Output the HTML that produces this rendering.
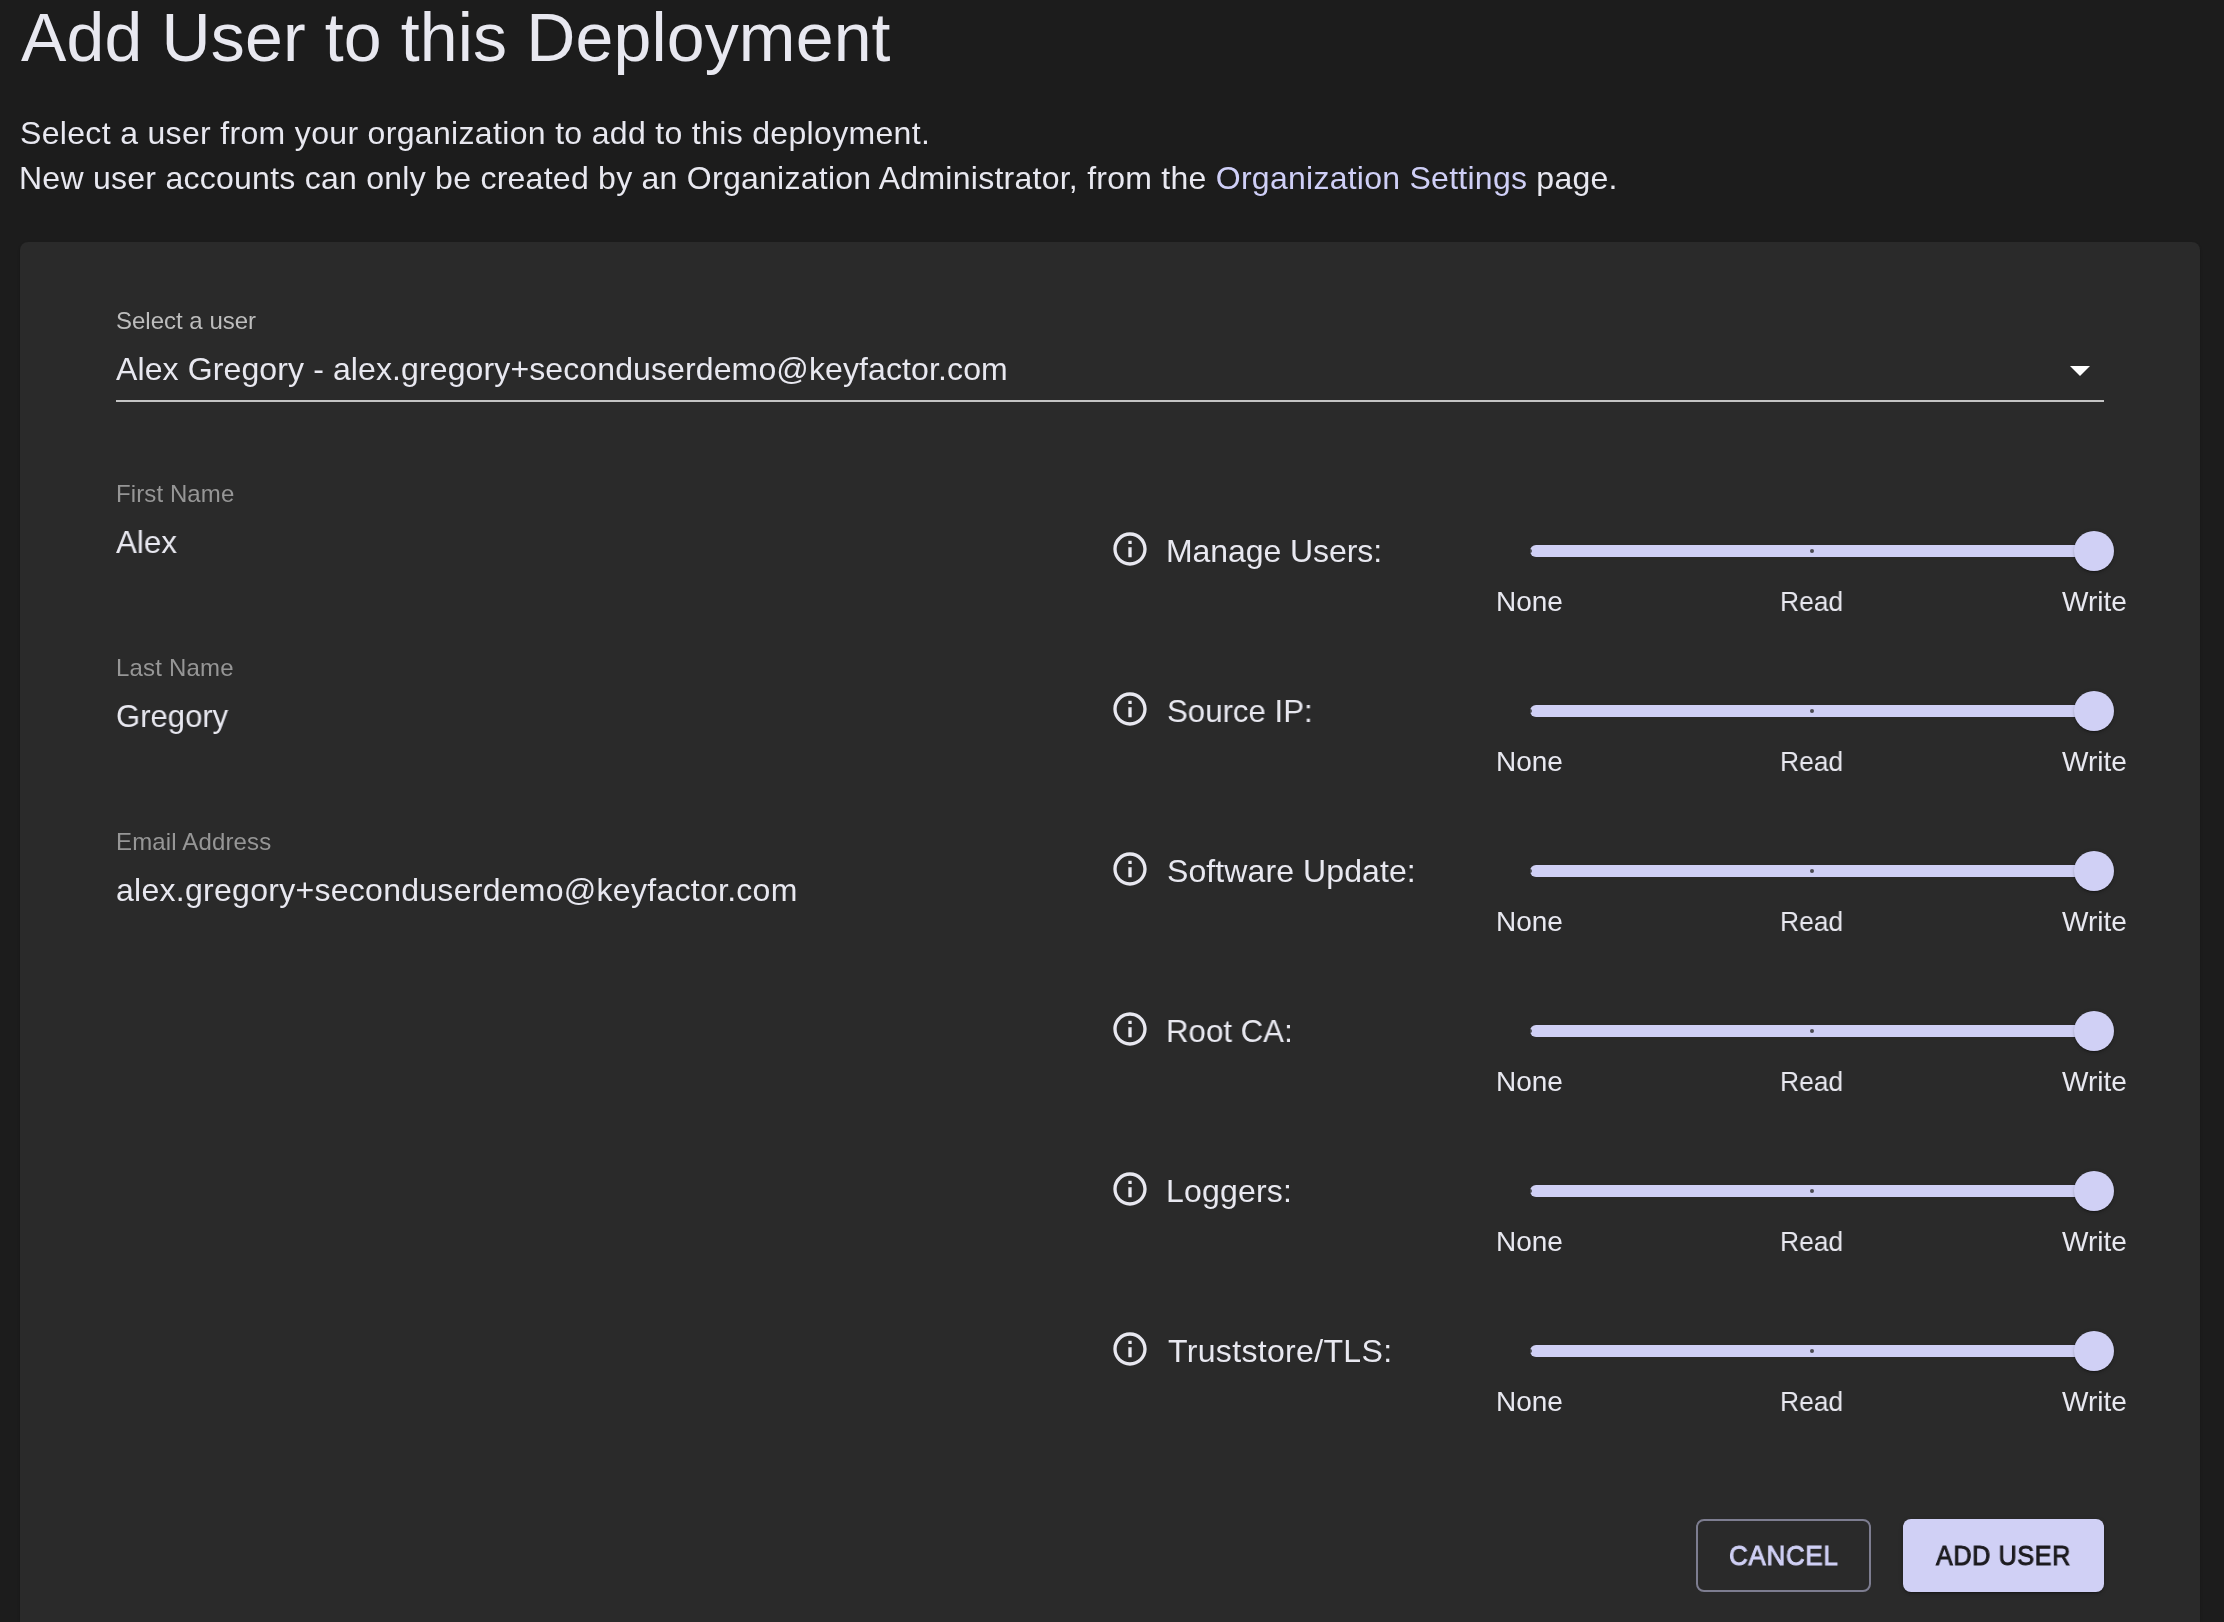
<!DOCTYPE html>
<html><head><meta charset="utf-8"><title>Add User to this Deployment</title>
<style>
html,body{margin:0;padding:0;width:2224px;height:1622px;overflow:hidden;}
body{width:2224px;height:1622px;background:#1c1c1c;overflow:hidden;position:relative;font-family:"Liberation Sans",sans-serif;color:#e8e8f0;}
.t{position:absolute;white-space:nowrap;line-height:1;will-change:transform;}
#paper{position:absolute;left:20px;top:242px;width:2180px;height:1380px;background:#2a2a2a;border-radius:8px 8px 0 0;box-shadow:0 2px 1px -1px rgba(0,0,0,0.2),0 1px 1px 0 rgba(0,0,0,0.14),0 1px 3px 0 rgba(0,0,0,0.12);}
.ico{position:absolute;left:1110px;width:40px;height:40px;}
.track{position:absolute;left:1530px;width:570px;height:12px;border-radius:6px;background:#d0d0f5;}
.dot{position:absolute;width:4px;height:4px;border-radius:2px;background:#2a2a2a;opacity:0.8;}
.thumb{position:absolute;left:2074px;width:40px;height:40px;border-radius:20px;background:#d0d0f5;box-shadow:0 3px 1px -2px rgba(0,0,0,0.2),0 2px 2px 0 rgba(0,0,0,0.14),0 1px 5px 0 rgba(0,0,0,0.12);}
</style></head>
<body>
<div class="t" id="title" style="left:21px;top:3px;font-size:68px;letter-spacing:0.154px;">Add User to this Deployment</div>
<div class="t" id="p1" style="left:20px;top:117px;font-size:32px;letter-spacing:0.33px;">Select a user from your organization to add to this deployment.</div>
<div class="t" id="p2" style="left:19px;top:162px;font-size:32px;letter-spacing:0.26px;">New user accounts can only be created by an Organization Administrator, from the <span style="color:#cfcff7">Organization Settings</span> page.</div>
<div id="paper"></div>
<div class="t" id="sl" style="left:116px;top:309px;font-size:24px;color:#bdbdbd;">Select a user</div>
<div class="t" id="sv" style="left:116px;top:353px;font-size:32px;letter-spacing:0.116px;">Alex Gregory - alex.gregory+seconduserdemo@keyfactor.com</div>
<div style="position:absolute;left:116px;top:400px;width:1988px;height:2px;background:#c4c4c4;"></div>
<svg style="position:absolute;left:2056px;top:346px;" width="48" height="48" viewBox="0 0 24 24"><path d="M7 10l5 5 5-5z" fill="#ffffff"/></svg>
<div class="t" id="fnl" style="left:116px;top:482px;font-size:24px;letter-spacing:0.1px;color:#969696;">First Name</div>
<div class="t" id="fnv" style="left:116px;top:526px;font-size:32px;transform:scaleX(0.979);transform-origin:0 0;">Alex</div>
<div class="t" id="lnl" style="left:116px;top:656px;font-size:24px;letter-spacing:0.2px;color:#969696;">Last Name</div>
<div class="t" id="lnv" style="left:116px;top:700px;font-size:32px;transform:scaleX(0.97);transform-origin:0 0;">Gregory</div>
<div class="t" id="eml" style="left:116px;top:830px;font-size:24px;letter-spacing:0.15px;color:#969696;">Email Address</div>
<div class="t" id="emv" style="left:116px;top:874px;font-size:32px;letter-spacing:0.28px;">alex.gregory+seconduserdemo@keyfactor.com</div>
<svg class="ico" style="top:529px" viewBox="0 0 24 24"><path fill="#e8e8f0" d="M11 7h2v2h-2zm0 4h2v6h-2zm1-9C6.48 2 2 6.48 2 12s4.48 10 10 10 10-4.48 10-10S17.52 2 12 2zm0 18c-4.41 0-8-3.59-8-8s3.59-8 8-8 8 3.59 8 8-3.59 8-8 8z"/></svg>
<div class="t" id="r1" style="left:1166px;top:535px;font-size:32px;letter-spacing:-0.08px;">Manage Users:</div>
<div class="track" style="top:545px;"></div>
<div class="dot" style="left:1528px;top:549px;"></div>
<div class="dot" style="left:1810px;top:549px;"></div>
<div class="thumb" style="top:531px;"></div>
<div class="t" id="none0" style="left:1496px;top:588px;font-size:28px;">None</div>
<div class="t" id="read0" style="left:1780px;top:588px;font-size:28px;transform:scaleX(0.945);transform-origin:0 0;">Read</div>
<div class="t" id="write0" style="left:2062px;top:588px;font-size:28px;">Write</div>
<svg class="ico" style="top:689px" viewBox="0 0 24 24"><path fill="#e8e8f0" d="M11 7h2v2h-2zm0 4h2v6h-2zm1-9C6.48 2 2 6.48 2 12s4.48 10 10 10 10-4.48 10-10S17.52 2 12 2zm0 18c-4.41 0-8-3.59-8-8s3.59-8 8-8 8 3.59 8 8-3.59 8-8 8z"/></svg>
<div class="t" id="r2" style="left:1167px;top:695px;font-size:32px;transform:scaleX(0.975);transform-origin:0 0;">Source IP:</div>
<div class="track" style="top:705px;"></div>
<div class="dot" style="left:1528px;top:709px;"></div>
<div class="dot" style="left:1810px;top:709px;"></div>
<div class="thumb" style="top:691px;"></div>
<div class="t" id="none1" style="left:1496px;top:748px;font-size:28px;">None</div>
<div class="t" id="read1" style="left:1780px;top:748px;font-size:28px;transform:scaleX(0.945);transform-origin:0 0;">Read</div>
<div class="t" id="write1" style="left:2062px;top:748px;font-size:28px;">Write</div>
<svg class="ico" style="top:849px" viewBox="0 0 24 24"><path fill="#e8e8f0" d="M11 7h2v2h-2zm0 4h2v6h-2zm1-9C6.48 2 2 6.48 2 12s4.48 10 10 10 10-4.48 10-10S17.52 2 12 2zm0 18c-4.41 0-8-3.59-8-8s3.59-8 8-8 8 3.59 8 8-3.59 8-8 8z"/></svg>
<div class="t" id="r3" style="left:1167px;top:855px;font-size:32px;letter-spacing:0.1px;">Software Update:</div>
<div class="track" style="top:865px;"></div>
<div class="dot" style="left:1528px;top:869px;"></div>
<div class="dot" style="left:1810px;top:869px;"></div>
<div class="thumb" style="top:851px;"></div>
<div class="t" id="none2" style="left:1496px;top:908px;font-size:28px;">None</div>
<div class="t" id="read2" style="left:1780px;top:908px;font-size:28px;transform:scaleX(0.945);transform-origin:0 0;">Read</div>
<div class="t" id="write2" style="left:2062px;top:908px;font-size:28px;">Write</div>
<svg class="ico" style="top:1009px" viewBox="0 0 24 24"><path fill="#e8e8f0" d="M11 7h2v2h-2zm0 4h2v6h-2zm1-9C6.48 2 2 6.48 2 12s4.48 10 10 10 10-4.48 10-10S17.52 2 12 2zm0 18c-4.41 0-8-3.59-8-8s3.59-8 8-8 8 3.59 8 8-3.59 8-8 8z"/></svg>
<div class="t" id="r4" style="left:1166px;top:1015px;font-size:32px;transform:scaleX(0.976);transform-origin:0 0;">Root CA:</div>
<div class="track" style="top:1025px;"></div>
<div class="dot" style="left:1528px;top:1029px;"></div>
<div class="dot" style="left:1810px;top:1029px;"></div>
<div class="thumb" style="top:1011px;"></div>
<div class="t" id="none3" style="left:1496px;top:1068px;font-size:28px;">None</div>
<div class="t" id="read3" style="left:1780px;top:1068px;font-size:28px;transform:scaleX(0.945);transform-origin:0 0;">Read</div>
<div class="t" id="write3" style="left:2062px;top:1068px;font-size:28px;">Write</div>
<svg class="ico" style="top:1169px" viewBox="0 0 24 24"><path fill="#e8e8f0" d="M11 7h2v2h-2zm0 4h2v6h-2zm1-9C6.48 2 2 6.48 2 12s4.48 10 10 10 10-4.48 10-10S17.52 2 12 2zm0 18c-4.41 0-8-3.59-8-8s3.59-8 8-8 8 3.59 8 8-3.59 8-8 8z"/></svg>
<div class="t" id="r5" style="left:1166px;top:1175px;font-size:32px;letter-spacing:0.2px;">Loggers:</div>
<div class="track" style="top:1185px;"></div>
<div class="dot" style="left:1528px;top:1189px;"></div>
<div class="dot" style="left:1810px;top:1189px;"></div>
<div class="thumb" style="top:1171px;"></div>
<div class="t" id="none4" style="left:1496px;top:1228px;font-size:28px;">None</div>
<div class="t" id="read4" style="left:1780px;top:1228px;font-size:28px;transform:scaleX(0.945);transform-origin:0 0;">Read</div>
<div class="t" id="write4" style="left:2062px;top:1228px;font-size:28px;">Write</div>
<svg class="ico" style="top:1329px" viewBox="0 0 24 24"><path fill="#e8e8f0" d="M11 7h2v2h-2zm0 4h2v6h-2zm1-9C6.48 2 2 6.48 2 12s4.48 10 10 10 10-4.48 10-10S17.52 2 12 2zm0 18c-4.41 0-8-3.59-8-8s3.59-8 8-8 8 3.59 8 8-3.59 8-8 8z"/></svg>
<div class="t" id="r6" style="left:1168px;top:1335px;font-size:32px;letter-spacing:0.34px;">Truststore/TLS:</div>
<div class="track" style="top:1345px;"></div>
<div class="dot" style="left:1528px;top:1349px;"></div>
<div class="dot" style="left:1810px;top:1349px;"></div>
<div class="thumb" style="top:1331px;"></div>
<div class="t" id="none5" style="left:1496px;top:1388px;font-size:28px;">None</div>
<div class="t" id="read5" style="left:1780px;top:1388px;font-size:28px;transform:scaleX(0.945);transform-origin:0 0;">Read</div>
<div class="t" id="write5" style="left:2062px;top:1388px;font-size:28px;">Write</div>
<div style="position:absolute;left:1696px;top:1519px;width:171px;height:69px;border:2px solid rgba(208,208,245,0.5);border-radius:8px;"></div>
<div class="t" id="cancel" style="left:1729px;top:1542px;font-size:28px;letter-spacing:0.8px;color:#d0d0f5;transform:scaleX(0.926);transform-origin:0 0;-webkit-text-stroke:1px #d0d0f5;">CANCEL</div>
<div style="position:absolute;left:1903px;top:1519px;width:201px;height:73px;background:#d0d0f5;border-radius:8px;box-shadow:0 3px 1px -2px rgba(0,0,0,0.2),0 2px 2px 0 rgba(0,0,0,0.14),0 1px 5px 0 rgba(0,0,0,0.12);"></div>
<div class="t" id="add" style="left:1936px;top:1542px;font-size:28px;letter-spacing:0.8px;color:#1c1b1f;transform:scaleX(0.894);transform-origin:0 0;-webkit-text-stroke:1px #1c1b1f;">ADD USER</div>
</body></html>
